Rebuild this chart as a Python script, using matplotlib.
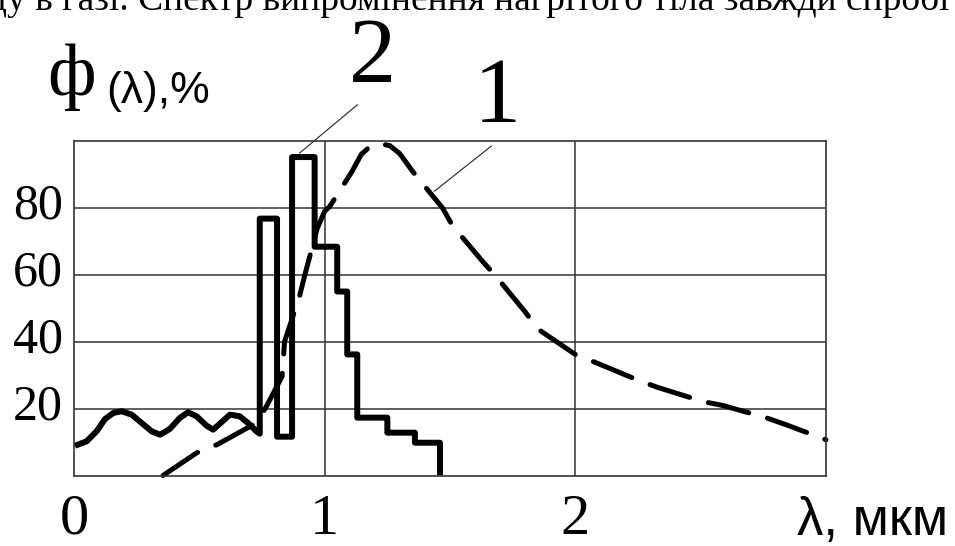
import numpy as np
import matplotlib
matplotlib.use("Agg")
import matplotlib.pyplot as plt

# ---- data ----
# curve 1: dashed spectral curve (lambda in micrometres, phi in %)
curve1_x = [0.355, 0.49, 0.57, 0.73, 0.77, 0.83, 0.84, 0.90, 0.92, 0.97, 1.00, 1.02,
            1.11, 1.146, 1.18, 1.22, 1.26, 1.30, 1.35, 1.47, 1.51, 1.63, 1.685, 1.80,
            1.85, 2.00, 2.08, 2.25, 2.33, 2.51, 2.59, 2.76, 2.84, 3.00]
curve1_y = [0.0, 6.8, 9.2, 15.8, 21.0, 29.6, 40.0, 53.7, 59.7, 73.8, 79.0, 80.4,
            91.0, 96.0, 98.3, 99.2, 98.6, 96.2, 91.0, 80.0, 74.7, 64.0, 59.4, 48.9,
            43.8, 36.2, 33.8, 28.5, 26.3, 22.1, 20.9, 17.3, 15.2, 10.7]

# curve 2: wavy continuum part
wave_x = [0.004, 0.05, 0.09, 0.124, 0.157, 0.19, 0.23, 0.27, 0.31, 0.343, 0.382,
          0.422, 0.455, 0.489, 0.529, 0.555, 0.588, 0.622, 0.661, 0.694, 0.728, 0.741]
wave_y = [8.9, 10.2, 13.2, 16.9, 18.7, 19.2, 18.2, 15.7, 13.2, 12.2, 13.9,
          17.2, 18.9, 17.7, 14.9, 13.7, 15.9, 18.2, 17.7, 15.7, 13.2, 12.5]
# curve 2: stepped (line) part
step_edges = [0.741, 0.81, 0.87, 0.96, 1.05, 1.09, 1.13, 1.25, 1.36, 1.46]
step_levels = [76.8, 11.6, 95.2, 68.4, 55.0, 36.2, 17.3, 12.8, 9.8]

xtick_vals = [0, 1, 2]
xtick_labels = ["0", "1", "2"]
ytick_vals = [20, 40, 60, 80]
ytick_labels = ["20", "40", "60", "80"]

top_text = "ду в газі. Спектр випромінення нагрітого тіла завжди спробі"

# ---- figure ----
W, H = 955, 546
fig = plt.figure(figsize=(W / 100, H / 100), dpi=100)
L, R, T, B = 74, 826, 141, 475.5
ax = fig.add_axes([L / W, 1 - B / H, (R - L) / W, (B - T) / H])
ax.set_xlim(0, 3)
ax.set_ylim(0, 100)

grid_col = "#333333"
for s in ax.spines.values():
    s.set_color(grid_col)
    s.set_linewidth(1.2)
ax.set_xticks([1, 2])
ax.set_yticks(ytick_vals)
ax.grid(True, color=grid_col, linewidth=1.1)
ax.tick_params(length=0, labelbottom=False, labelleft=False)

# curve 1 (dashed)
plt.rcParams["lines.scale_dashes"] = False
ln1, = ax.plot(curve1_x, curve1_y, color="black", linewidth=3.6,
               solid_capstyle="round", dash_capstyle="round",
               solid_joinstyle="round", dash_joinstyle="round", clip_on=False)
ln1.set_dashes((30, 14))

# curve 2 (wavy + stepped)
ex = np.asarray(step_edges)
lv = np.asarray(step_levels)
sx = np.repeat(ex, 2)[1:-1]
sy = np.repeat(lv, 2)
c2x = np.concatenate([wave_x, sx, [ex[-1]]])
c2y = np.concatenate([wave_y, sy, [0.0]])
ln2, = ax.plot(c2x, c2y, color="black", linewidth=4.3, solid_capstyle="butt")
ln2.set_solid_joinstyle("round")

# leader lines for labels
ax.plot([0.90, 1.13], [96.4, 110.8], color="#222222", linewidth=0.8, clip_on=False)
ax.plot([1.438, 1.665], [85.0, 98.5], color="#222222", linewidth=0.8, clip_on=False)

serif = "Liberation Serif"
sans = "Liberation Sans"

# y tick labels
for v, lab in zip(ytick_vals, ytick_labels):
    ax.annotate(lab, xy=(0, v), xycoords=("axes fraction", "data"),
                xytext=(-11, -11), textcoords="offset pixels",
                ha="right", va="baseline", fontsize=36, family=serif)
# x tick labels
for v, lab in zip(xtick_vals, xtick_labels):
    ax.annotate(lab, xy=(v, 0), xycoords=("data", "axes fraction"),
                xytext=(0, -58), textcoords="offset pixels",
                ha="center", va="baseline", fontsize=42, family=serif)

def fx(px):
    return px / W

def fy(py):
    return 1 - py / H

fig.text(fx(797), fy(535), "λ, мкм", fontsize=38, family=sans,
         ha="left", va="baseline")
fig.text(fx(47), fy(95), "ф", fontsize=54, family=serif, ha="left", va="baseline")
fig.text(fx(106), fy(103), "(λ),%", fontsize=32, family=sans, ha="left", va="baseline")
fig.text(fx(372), fy(82), "2", fontsize=68, family=serif, ha="center", va="baseline")
fig.text(fx(497), fy(122), "1", fontsize=68, family=serif, ha="center", va="baseline")
fig.text(fx(-12), fy(10), top_text, fontsize=27, family=serif,
         ha="left", va="baseline")

fig.savefig("out.png", dpi=100)
